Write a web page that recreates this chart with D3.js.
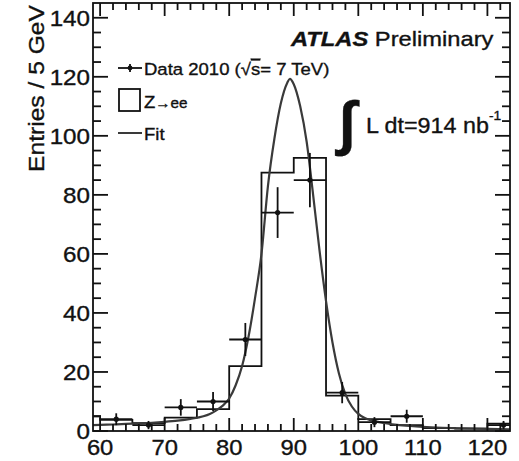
<!DOCTYPE html>
<html>
<head>
<meta charset="utf-8">
<script src="https://cdn.jsdelivr.net/npm/d3@7"></script>
<style>
  html, body { margin: 0; padding: 0; background: #fff; }
  svg { display: block; }
  text { font-family: "Liberation Sans", Arial, Helvetica, sans-serif; fill: #111; stroke: #111; stroke-width: 0.35; }
</style>
</head>
<body>
<svg id="chart" width="519" height="461"></svg>
<script>
// Z -> ee invariant mass spectrum, 5 GeV bins

// Data (2010): bin centres, counts and statistical errors
const dataMass  = [62.5, 67.5, 72.5, 77.5, 82.5, 87.5, 92.5, 97.5, 102.5, 107.5, 122.5];
const dataCount = [4, 2, 8, 10, 31, 74, 85, 13, 3, 5, 2];
const dataErr   = [2.0, 1.4, 2.8, 3.2, 5.6, 8.6, 9.2, 3.6, 1.7, 2.2, 1.4];

// Z -> ee simulation histogram: lower bin edges and contents
const histLow   = [55, 60, 65, 70, 75, 80, 85, 90, 95, 100, 105, 110, 115, 120];
const histValue = [5, 3.8, 2.7, 4.5, 7.4, 22, 87.5, 92.5, 12, 4, 2, 1, 0.8, 2.5];
const binWidth  = 5;

// Fitted line shape, sampled along the mass axis
const fitMass  = [58.9, 60, 62, 64, 66, 68, 70, 72, 74, 76, 77, 78, 79, 80, 81, 82, 83, 84, 85, 86, 87, 88, 89, 89.4, 90, 91, 92, 93, 94, 95, 96, 97, 98, 99, 100, 101, 102, 104, 106, 108, 110, 113, 116, 120, 123.5];
const fitValue = [2.0, 2.1, 2.2, 2.4, 2.6, 2.8, 3.1, 3.5, 4.1, 5.0, 5.8, 7.0, 8.6, 11, 15.5, 22, 32, 45, 60, 83, 99, 111, 118, 119.3, 117.5, 110, 98, 80, 61, 44, 30, 19.5, 12.5, 8.3, 5.8, 4.4, 3.6, 2.7, 2.1, 1.7, 1.4, 1.1, 0.9, 0.7, 0.6];

// Axis ticks
const xMajorTicks = [60, 70, 80, 90, 100, 110, 120];
const yMajorTicks = [0, 20, 40, 60, 80, 100, 120, 140];

const svg = d3.select("#chart");
const frame = { left: 93, right: 510, top: 3, bottom: 431 };

const x = d3.scaleLinear().domain([58.9, 123.5]).range([frame.left, frame.right]);
const y = d3.scaleLinear().domain([0, 145]).range([frame.bottom, frame.top]);

// Text placed at (px, py), widened horizontally by sx
function label(parent, px, py, size, sx, anchor) {
  return parent.append("text")
    .attr("transform", `translate(${px},${py}) scale(${sx},1)`)
    .attr("font-size", size)
    .attr("text-anchor", anchor || "start");
}

svg.append("defs").append("clipPath").attr("id", "plot-clip")
  .append("rect")
  .attr("x", frame.left).attr("y", frame.top)
  .attr("width", frame.right - frame.left).attr("height", frame.bottom - frame.top);

const plot = svg.append("g").attr("clip-path", "url(#plot-clip)");

// Simulation histogram outline
const histPts = [[histLow[0], 0]];
histLow.forEach((lo, i) => {
  histPts.push([lo, histValue[i]]);
  histPts.push([lo + binWidth, histValue[i]]);
});
histPts.push([histLow[histLow.length - 1] + binWidth, 0]);
plot.append("path")
  .attr("d", d3.line().x(d => x(d[0])).y(d => y(d[1]))(histPts))
  .attr("fill", "none").attr("stroke", "#111").attr("stroke-width", 1.8);

// Fit curve
plot.append("path")
  .attr("d", d3.line().x((d, i) => x(fitMass[i])).y((d, i) => y(fitValue[i])).curve(d3.curveMonotoneX)(fitMass))
  .attr("fill", "none").attr("stroke", "#3a3a3a").attr("stroke-width", 2.2);

// Data points with error bars
const pts = plot.append("g").attr("stroke", "#111").attr("stroke-width", 1.8);
dataMass.forEach((m, i) => {
  pts.append("line")
    .attr("x1", x(m - binWidth / 2)).attr("x2", x(m + binWidth / 2))
    .attr("y1", y(dataCount[i])).attr("y2", y(dataCount[i]));
  pts.append("line")
    .attr("x1", x(m)).attr("x2", x(m))
    .attr("y1", y(dataCount[i] - dataErr[i])).attr("y2", y(dataCount[i] + dataErr[i]));
  pts.append("circle")
    .attr("cx", x(m)).attr("cy", y(dataCount[i])).attr("r", 2.6)
    .attr("fill", "#111").attr("stroke", "none");
});

// Axes: ticks on all four sides of the frame
const axes = svg.append("g").attr("stroke", "#111").attr("stroke-width", 1.8);
axes.append("rect")
  .attr("x", frame.left).attr("y", frame.top)
  .attr("width", frame.right - frame.left).attr("height", frame.bottom - frame.top)
  .attr("fill", "none");

const xMinor = d3.range(60, 124, 2).filter(v => !xMajorTicks.includes(v));
const yMinor = d3.range(5, 145, 5).filter(v => !yMajorTicks.includes(v));

xMajorTicks.forEach(v => {
  axes.append("line").attr("x1", x(v)).attr("x2", x(v)).attr("y1", frame.bottom).attr("y2", frame.bottom - 13);
  axes.append("line").attr("x1", x(v)).attr("x2", x(v)).attr("y1", frame.top).attr("y2", frame.top + 13);
});
xMinor.forEach(v => {
  axes.append("line").attr("x1", x(v)).attr("x2", x(v)).attr("y1", frame.bottom).attr("y2", frame.bottom - 7);
  axes.append("line").attr("x1", x(v)).attr("x2", x(v)).attr("y1", frame.top).attr("y2", frame.top + 7);
});
yMajorTicks.forEach(v => {
  axes.append("line").attr("x1", frame.left).attr("x2", frame.left + 15).attr("y1", y(v)).attr("y2", y(v));
  axes.append("line").attr("x1", frame.right).attr("x2", frame.right - 15).attr("y1", y(v)).attr("y2", y(v));
});
yMinor.forEach(v => {
  axes.append("line").attr("x1", frame.left).attr("x2", frame.left + 8).attr("y1", y(v)).attr("y2", y(v));
  axes.append("line").attr("x1", frame.right).attr("x2", frame.right - 8).attr("y1", y(v)).attr("y2", y(v));
});

// Tick labels
const tickLabels = svg.append("g");
xMajorTicks.forEach(v => label(tickLabels, x(v), 455, 22, 1.08, "middle").text(v));
yMajorTicks.forEach(v => label(tickLabels, 90, y(v) + 8, 22, 1.1, "end").text(v));

// Y axis title
svg.append("text")
  .attr("transform", "translate(44,5) rotate(-90) scale(1.12,1)")
  .attr("text-anchor", "end").attr("font-size", 22)
  .text("Entries / 5 GeV");

// ATLAS label
const atlas = label(svg, 291, 46, 21, 1.13);
atlas.append("tspan").attr("font-weight", "bold").attr("font-style", "italic").text("ATLAS");
atlas.append("tspan").text(" Preliminary");

// Legend
const leg = svg.append("g");
leg.append("line").attr("x1", 118).attr("x2", 142).attr("y1", 68).attr("y2", 68)
  .attr("stroke", "#111").attr("stroke-width", 1.8);
leg.append("line").attr("x1", 130).attr("x2", 130).attr("y1", 64).attr("y2", 72)
  .attr("stroke", "#111").attr("stroke-width", 1.8);
leg.append("circle").attr("cx", 130).attr("cy", 68).attr("r", 2.4).attr("fill", "#111");
const dlab = label(leg, 144, 75, 17, 1.09);
dlab.append("tspan").text("Data 2010 (√");
dlab.append("tspan").style("text-decoration", "overline").text("s");
dlab.append("tspan").text("= 7 TeV)");

leg.append("rect").attr("x", 119).attr("y", 89).attr("width", 21).attr("height", 22)
  .attr("fill", "none").attr("stroke", "#111").attr("stroke-width", 1.8);
const zlab = label(leg, 144, 108, 17, 1.09);
zlab.append("tspan").text("Z");
zlab.append("tspan").attr("font-size", 14).text("→ee");

leg.append("line").attr("x1", 118).attr("x2", 142).attr("y1", 133).attr("y2", 133)
  .attr("stroke", "#3a3a3a").attr("stroke-width", 2);
label(leg, 144, 140, 17, 1.09).text("Fit");

// Integrated luminosity
svg.append("text").attr("x", 339).attr("y", 143).attr("font-size", 60)
  .attr("font-family", "DejaVu Sans").attr("font-weight", "bold").text("∫");
const lumi = label(svg, 366, 133, 22, 1.06);
lumi.append("tspan").text("L dt=914 nb");
lumi.append("tspan").attr("font-size", 13).attr("dy", -13).text("-1");
</script>
</body>
</html>
